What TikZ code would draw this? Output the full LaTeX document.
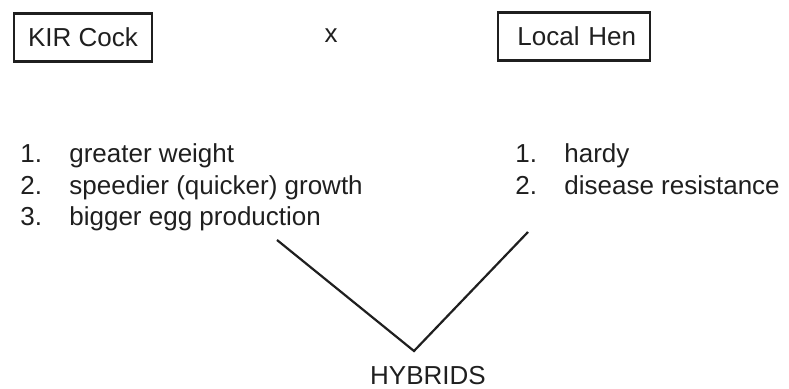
\documentclass[tikz,border=0pt]{standalone}
\usepackage{fontspec}
\setmainfont{Liberation Sans}
\usetikzlibrary{positioning}

\begin{document}
\begin{tikzpicture}[x=0.5pt, y=-0.5pt,
    every node/.style={font=\fontsize{13}{15.7}\selectfont, text=black!88},
    parent/.style={draw=black!88, line width=1.1pt, minimum height=24pt, inner sep=0pt},
    trait/.style={anchor=base west, inner sep=0pt}]

    \useasboundingbox (0,0) rectangle (789,389);

    % PARENTS
    \node[parent, minimum width=69pt] (cock) at (83,37.5) {KIR Cock};
    \node (cross) at (331,36) {x};
    \node[parent, text width=62pt, inner xsep=7pt, align=right] (hen) at (574,36.5) {Local Hen};

    % TRAITS OF EACH PARENT
    \foreach \n/\t in {1/greater weight, 2/speedier (quicker) growth, 3/bigger egg production}{
        \node[trait] (cock\n) at (20,{163+31.5*(\n-1)}) {\makebox[24.5pt][l]{\n.}\t};
    }
    \foreach \n/\t in {1/hardy, 2/disease resistance}{
        \node[trait] (hen\n) at (515,{163+31.5*(\n-1)}) {\makebox[24.5pt][l]{\n.}\t};
    }

    % HYBRIDS (V joining both lists)
    \node[anchor=base, inner sep=0pt] (hybrids) at (428,385) {HYBRIDS};
    \coordinate (tip) at (414,351);
    \coordinate (fromcock) at (277,240);
    \coordinate (fromhen) at (528,232);
    \draw[black!88, line width=1.1pt] (fromcock) -- (tip) -- (fromhen);

\end{tikzpicture}
\end{document}
